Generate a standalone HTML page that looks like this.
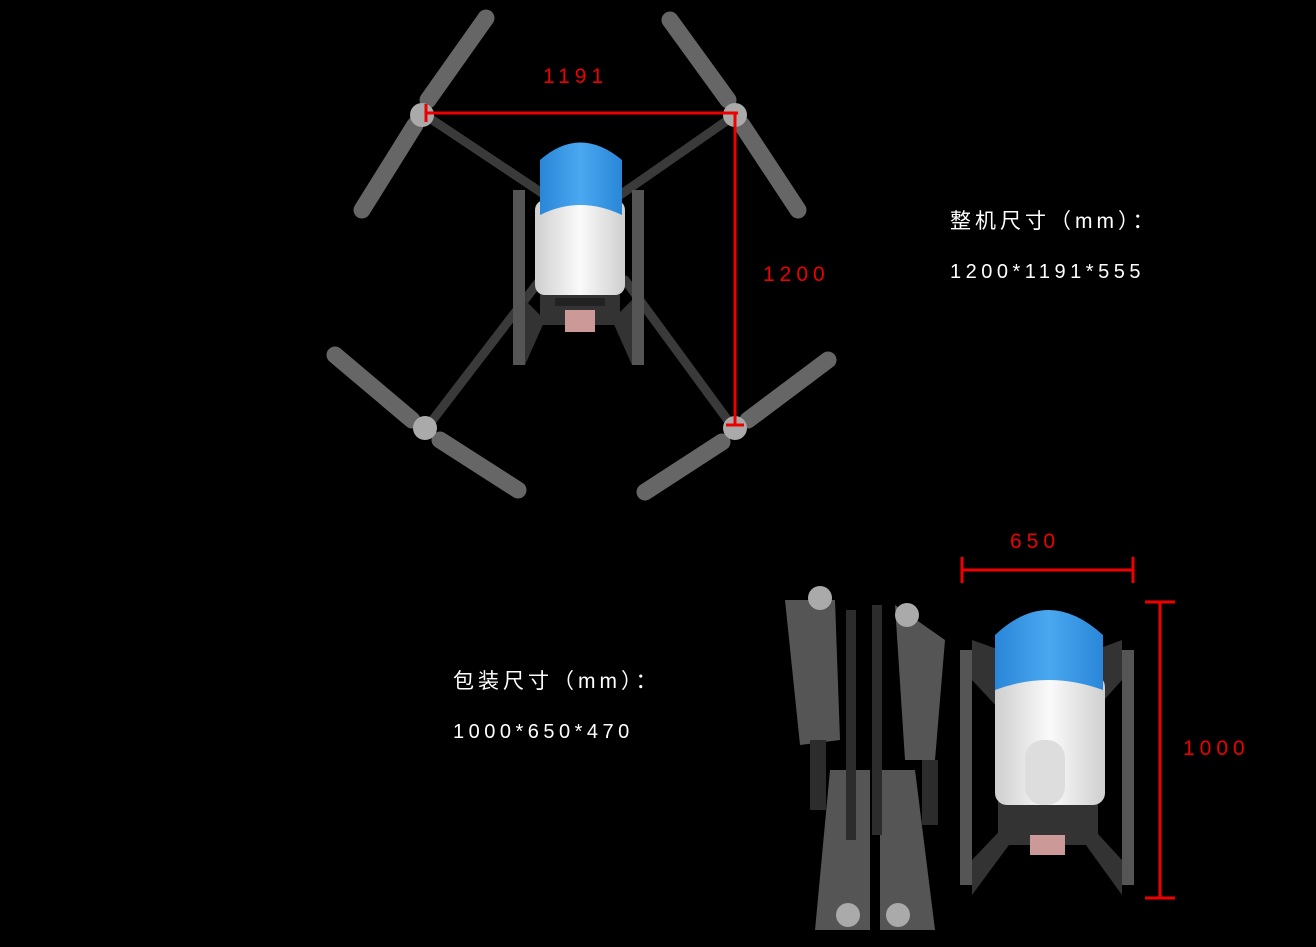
<!DOCTYPE html>
<html><head><meta charset="utf-8"><style>
html,body{margin:0;padding:0;background:#000;width:1316px;height:947px;overflow:hidden}
svg{display:block}
.w{fill:#fff;font-family:"Liberation Sans","Noto Sans CJK SC",sans-serif}
.r{fill:#e00;font-family:"Liberation Sans",sans-serif;font-size:21px;letter-spacing:5px}
</style></head><body>
<svg width="1316" height="947" viewBox="0 0 1316 947">
<defs>
<linearGradient id="bl" x1="0" y1="0" x2="1" y2="0"><stop offset="0" stop-color="#2a86d8"/><stop offset=".5" stop-color="#4aa8f0"/><stop offset="1" stop-color="#2a86d8"/></linearGradient>
<linearGradient id="wh" x1="0" y1="0" x2="1" y2="0"><stop offset="0" stop-color="#cfcfcf"/><stop offset=".5" stop-color="#fafafa"/><stop offset="1" stop-color="#cfcfcf"/></linearGradient>
</defs>
<g stroke="#3a3a3a" stroke-width="9" stroke-linecap="round">
<line x1="425" y1="115" x2="545" y2="195"/><line x1="735" y1="115" x2="620" y2="195"/>
<line x1="425" y1="430" x2="540" y2="280"/><line x1="735" y1="430" x2="625" y2="280"/>
</g>
<g stroke="#666" stroke-width="17" stroke-linecap="round">
<line x1="428" y1="100" x2="486" y2="18"/><line x1="415" y1="125" x2="362" y2="210"/>
<line x1="728" y1="100" x2="670" y2="20"/><line x1="742" y1="125" x2="798" y2="210"/>
<line x1="412" y1="420" x2="335" y2="355"/><line x1="440" y1="440" x2="518" y2="490"/>
<line x1="748" y1="420" x2="828" y2="360"/><line x1="722" y1="442" x2="645" y2="492"/>
</g>
<g fill="#aaa"><circle cx="422" cy="115" r="12"/><circle cx="735" cy="115" r="12"/><circle cx="425" cy="428" r="12"/><circle cx="735" cy="428" r="12"/></g>
<g fill="#555"><rect x="513" y="190" width="12" height="175"/><rect x="632" y="190" width="12" height="175"/></g>
<path d="M525 300 L545 320 L525 365Z M632 300 L612 320 L632 365Z" fill="#333"/>
<rect x="540" y="285" width="80" height="40" fill="#333"/>
<rect x="565" y="310" width="30" height="22" fill="#c99"/>
<rect x="535" y="200" width="90" height="95" rx="10" fill="url(#wh)"/>
<rect x="555" y="298" width="50" height="8" fill="#222"/>
<path d="M540 215 L540 160 Q580 125 622 160 L622 215 Q580 195 540 215Z" fill="url(#bl)"/>
<g stroke="#e00" stroke-width="3">
<line x1="426" y1="113" x2="738" y2="113"/><line x1="426" y1="104" x2="426" y2="122"/>
<line x1="735" y1="113" x2="735" y2="425"/><line x1="726" y1="425" x2="744" y2="425"/>
</g>
<text class="r" x="543" y="83">1191</text>
<text class="r" x="763" y="281">1200</text>
<text class="w" x="950" y="228" font-size="21" letter-spacing="4">整机尺寸（mm）：</text>
<text class="w" x="950" y="278" font-size="20" letter-spacing="4.5">1200*1191*555</text>
<text class="w" x="453" y="688" font-size="21" letter-spacing="4">包装尺寸（mm）：</text>
<text class="w" x="453" y="738" font-size="20" letter-spacing="4.5">1000*650*470</text>
<g fill="#555">
<path d="M785 600 L835 600 L840 740 L800 745Z"/><path d="M895 605 L945 640 L935 760 L905 760Z"/>
<path d="M830 770 L870 770 L870 930 L815 930Z"/><path d="M880 770 L915 770 L935 930 L880 930Z"/>
</g>
<g fill="#2c2c2c"><rect x="846" y="610" width="10" height="230"/><rect x="872" y="605" width="10" height="230"/><rect x="922" y="760" width="16" height="65"/><rect x="810" y="740" width="16" height="70"/></g>
<g fill="#aaa"><circle cx="820" cy="598" r="12"/><circle cx="907" cy="615" r="12"/><circle cx="848" cy="915" r="12"/><circle cx="898" cy="915" r="12"/></g>
<g fill="#555"><rect x="960" y="650" width="12" height="235"/><rect x="1122" y="650" width="12" height="235"/></g>
<path d="M972 640 L1000 650 L1000 710 L972 680Z M1122 640 L1095 650 L1095 710 L1122 680Z" fill="#333"/>
<path d="M972 860 L1010 820 L1020 830 L972 895Z M1122 860 L1085 820 L1075 830 L1122 895Z" fill="#333"/>
<rect x="998" y="795" width="100" height="50" fill="#333"/>
<rect x="1030" y="835" width="35" height="20" fill="#c99"/>
<rect x="995" y="675" width="110" height="130" rx="12" fill="url(#wh)"/>
<rect x="1025" y="740" width="40" height="65" rx="18" fill="#ddd"/>
<path d="M995 690 L995 635 Q1048 585 1103 635 L1103 690 Q1048 670 995 690Z" fill="url(#bl)"/>
<g stroke="#e00" stroke-width="3">
<line x1="962" y1="570" x2="1133" y2="570"/><line x1="962" y1="557" x2="962" y2="583"/><line x1="1133" y1="557" x2="1133" y2="583"/>
<line x1="1160" y1="602" x2="1160" y2="898"/><line x1="1145" y1="602" x2="1175" y2="602"/><line x1="1145" y1="898" x2="1175" y2="898"/>
</g>
<text class="r" x="1010" y="548">650</text>
<text class="r" x="1183" y="755">1000</text>
</svg>
</body></html>
